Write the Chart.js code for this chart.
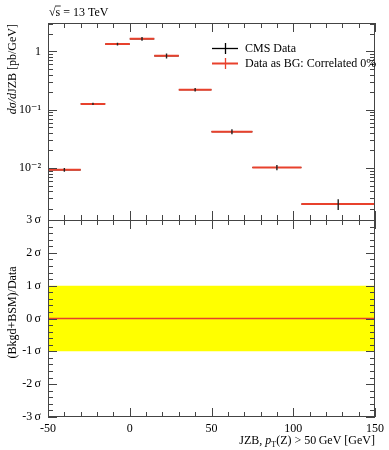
<!DOCTYPE html>
<html>
<head>
<meta charset="utf-8">
<script src="https://cdn.jsdelivr.net/npm/chart.js@4"></script>
<style>
body { margin: 0; background: #fff; }
</style>
</head>
<body>
<canvas id="c" width="389" height="450"></canvas>
<script>
// bins in JZB [GeV]
const binLo = [-50, -30, -15, 0, 15, 30, 50, 75, 105];
const binHi = [-30, -15, 0, 15, 30, 50, 75, 105, 150];
// dsigma/dJZB [pb/GeV]
const cmsData = [0.0093, 0.126, 1.34, 1.65, 0.84, 0.22, 0.042, 0.0102, 0.0024];
const cmsErr = [0.0007, 0.006, 0.07, 0.12, 0.08, 0.015, 0.004, 0.0011, 0.0005];
const bgData = [0.0093, 0.126, 1.34, 1.65, 0.84, 0.22, 0.042, 0.0102, 0.0024];
// ratio panel, in sigma
const ratioSigma = [0, 0, 0, 0, 0, 0, 0, 0, 0];
const bandHi = 1;
const bandLo = -1;

const xTicks = [-50, 0, 50, 100, 150];
const xLabels = ['-50', '0', '50', '100', '150'];
const logTicks = [1, 0.1, 0.01];
const logLabels = ['1', '10\u207B\u00B9', '10\u207B\u00B2'];
const sigmaTicks = [3, 2, 1, 0, -1, -2, -3];
const sigmaLabels = ['3\u2009\u03C3', '2\u2009\u03C3', '1\u2009\u03C3', '0\u2009\u03C3', '-1\u2009\u03C3', '-2\u2009\u03C3', '-3\u2009\u03C3'];

const red = '#e8412c';
const font = "'Liberation Serif', 'DejaVu Serif', serif";

function hbars(lo, hi, v) {
	let out = [];
	for (let i = 0; i < v.length; i++) {
		out.push({x: lo[i], y: v[i]}, {x: hi[i], y: v[i]}, {x: hi[i], y: null});
	}
	return out;
}
function vbars(lo, hi, v, e) {
	let out = [];
	for (let i = 0; i < v.length; i++) {
		let c = (lo[i] + hi[i]) / 2;
		out.push({x: c, y: v[i] - e[i]}, {x: c, y: v[i] + e[i]}, {x: c, y: null});
	}
	return out;
}

const deco = {
	id: 'deco',
	afterDatasetsDraw(chart) {
		const ctx = chart.ctx;
		const a = chart.chartArea;
		const x = chart.scales.x, y = chart.scales.y, yr = chart.scales.yr;
		const L = a.left, R = a.right;
		ctx.save();
		ctx.strokeStyle = '#444';
		ctx.lineWidth = 1;
		function line(x0, y0, x1, y1) {
			ctx.beginPath();
			ctx.moveTo(x0, y0);
			ctx.lineTo(x1, y1);
			ctx.stroke();
		}
		// frames
		ctx.strokeRect(Math.round(L) + 0.5, Math.round(y.top) + 0.5, Math.round(R - L) - 1, Math.round(y.bottom - y.top));
		ctx.strokeRect(Math.round(L) + 0.5, Math.round(yr.top) + 0.5, Math.round(R - L) - 1, Math.round(yr.bottom - yr.top) - 1);
		// x ticks
		for (let v = -50; v <= 150; v += 10) {
			let px = Math.round(x.getPixelForValue(v)) + 0.5;
			let len = (v % 50 === 0) ? 9 : 5;
			line(px, y.top, px, y.top + len);
			line(px, y.bottom, px, y.bottom - len);
			line(px, yr.top, px, yr.top + len);
			line(px, yr.bottom, px, yr.bottom - len);
		}
		// log y ticks
		for (let e = -3; e <= 0; e++) {
			for (let k = 1; k <= 9; k++) {
				let v = k * Math.pow(10, e);
				if (v < y.min || v > y.max) continue;
				let py = Math.round(y.getPixelForValue(v)) + 0.5;
				let len = k === 1 ? 9 : 5;
				line(L, py, L + len, py);
				line(R, py, R - len, py);
			}
		}
		// sigma ticks
		for (let i = -15; i <= 15; i++) {
			let v = i / 5;
			let py = Math.round(yr.getPixelForValue(v)) + 0.5;
			let len = (i % 5 === 0) ? 9 : 5;
			line(L, py, L + len, py);
			line(R, py, R - len, py);
		}
		ctx.restore();

		// title
		ctx.save();
		ctx.fillStyle = '#000';
		ctx.font = '12px ' + font;
		ctx.textBaseline = 'alphabetic';
		let tx = 49, ty = 16;
		ctx.fillText('\u221A', tx, ty);
		let w1 = ctx.measureText('\u221A').width;
		ctx.fillText('s', tx + w1, ty);
		let ws = ctx.measureText('s').width;
		ctx.strokeStyle = '#000';
		ctx.lineWidth = 0.8;
		line(tx + w1 - 0.5, ty - 10, tx + w1 + ws + 0.5, ty - 10);
		ctx.fillText(' = 13 TeV', tx + w1 + ws, ty);

		// legend
		const leg = [['CMS Data', '#000', 48], ['Data as BG: Correlated 0%', red, 63]];
		ctx.textBaseline = 'middle';
		for (const [txt, col, ly] of leg) {
			ctx.strokeStyle = col;
			ctx.lineWidth = col === '#000' ? 1.3 : 2;
			line(212, ly + 0.5, 238, ly + 0.5);
			ctx.lineWidth = 1.3;
			line(225.5, ly - 5, 225.5, ly + 6);
			ctx.fillStyle = '#000';
			ctx.fillText(txt, 245, ly + 1);
		}

		// x title
		ctx.textBaseline = 'alphabetic';
		const parts = [['JZB, ', '12px ' + font, 0], ['p', 'italic 12px ' + font, 0], ['T', '8px ' + font, 2.5], ['(Z) > 50\u2009GeV [GeV]', '12px ' + font, 0]];
		let tw = 0;
		for (const p of parts) { ctx.font = p[1]; tw += ctx.measureText(p[0]).width; }
		let cx = R - tw, by = 444;
		for (const p of parts) {
			ctx.font = p[1];
			ctx.fillText(p[0], cx, by + p[2]);
			cx += ctx.measureText(p[0]).width;
		}

		// y titles
		ctx.save();
		ctx.translate(16, y.top);
		ctx.rotate(-Math.PI / 2);
		const yp = [['d\u03C3/d', 'italic 12px ' + font], ['JZB [pb/GeV]', '12px ' + font]];
		let yw = 0;
		for (const p of yp) { ctx.font = p[1]; yw += ctx.measureText(p[0]).width; }
		let cy = -yw - 1;
		for (const p of yp) {
			ctx.font = p[1];
			ctx.fillText(p[0], cy, 0);
			cy += ctx.measureText(p[0]).width;
		}
		ctx.restore();
		ctx.save();
		ctx.translate(16, (yr.top + yr.bottom) / 2 - 6);
		ctx.rotate(-Math.PI / 2);
		ctx.font = '12px ' + font;
		ctx.textAlign = 'center';
		ctx.fillText('(Bkgd+BSM)/Data', 0, 0);
		ctx.restore();
		ctx.restore();
	}
};

let chart = new Chart(document.getElementById('c'), {
	type: 'line',
	data: {
		datasets: [
			{
				label: 'CMS Data',
				data: vbars(binLo, binHi, cmsData, cmsErr),
				yAxisID: 'y',
				borderColor: '#222',
				borderWidth: 1.4,
				order: 0
			},
			{
				label: 'Data as BG: Correlated 0%',
				data: hbars(binLo, binHi, bgData),
				yAxisID: 'y',
				borderColor: red,
				borderWidth: 2,
				order: 1
			},
			{
				label: 'CMS Data x',
				data: hbars(binLo, binHi, cmsData),
				yAxisID: 'y',
				borderColor: '#222',
				borderWidth: 1.2,
				order: 2
			},
			{
				label: 'ratio',
				data: hbars(binLo, binHi, ratioSigma),
				yAxisID: 'yr',
				borderColor: red,
				borderWidth: 1.5,
				order: 3
			},
			{
				label: 'band',
				data: [{x: binLo[0], y: bandHi}, {x: binHi[binHi.length - 1], y: bandHi}],
				yAxisID: 'yr',
				borderWidth: 0,
				borderColor: 'rgba(0,0,0,0)',
				backgroundColor: '#ffff00',
				fill: {value: bandLo},
				order: 4
			}
		]
	},
	options: {
		responsive: false,
		animation: false,
		spanGaps: false,
		elements: { point: { radius: 0, hoverRadius: 0 }, line: { tension: 0 } },
		layout: { padding: { top: 23, right: 13, left: 0, bottom: 0 } },
		plugins: { legend: { display: false }, tooltip: { enabled: false } },
		scales: {
			x: {
				type: 'linear',
				min: -50,
				max: 150,
				bounds: 'data',
				grid: { display: false, drawTicks: false },
				border: { display: false },
				afterBuildTicks: s => { s.ticks = xTicks.map(v => ({value: v})); },
				afterFit: s => { s.height = 33; },
				ticks: {
					autoSkip: false,
					maxRotation: 0,
					padding: 5,
					color: '#000',
					font: { family: font, size: 12 },
					callback: v => xLabels[xTicks.indexOf(v)]
				}
			},
			// left boxes are stacked in reverse order, so the ratio axis comes first
			yr: {
				type: 'linear',
				position: 'left',
				stack: 'panels',
				stackWeight: 1,
				min: -3,
				max: 3,
				bounds: 'data',
				grid: { display: false, drawTicks: false },
				border: { display: false },
				afterBuildTicks: s => { s.ticks = sigmaTicks.map(v => ({value: v})); },
				afterFit: s => { s.width = 48; },
				ticks: {
					autoSkip: false,
					padding: 7,
					color: '#000',
					font: { family: font, size: 12 },
					callback: v => sigmaLabels[sigmaTicks.indexOf(v)]
				}
			},
			y: {
				type: 'logarithmic',
				position: 'left',
				stack: 'panels',
				stackWeight: 1,
				min: 0.00128,
				max: 3.08,
				bounds: 'data',
				grid: { display: false, drawTicks: false },
				border: { display: false },
				afterBuildTicks: s => { s.ticks = logTicks.map(v => ({value: v})); },
				afterFit: s => { s.width = 48; },
				ticks: {
					autoSkip: false,
					padding: 7,
					color: '#000',
					font: { family: font, size: 12 },
					callback: v => logLabels[logTicks.indexOf(v)]
				}
			}
		}
	},
	plugins: [deco]
});
</script>
</body>
</html>
